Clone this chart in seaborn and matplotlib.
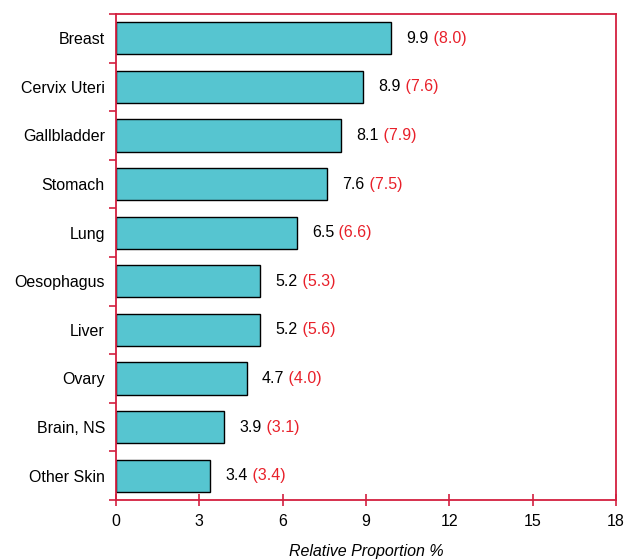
import matplotlib
matplotlib.use("Agg")
import matplotlib.pyplot as plt
import seaborn as sns
import pandas as pd

sites = ["Breast", "Cervix Uteri", "Gallbladder", "Stomach", "Lung",
         "Oesophagus", "Liver", "Ovary", "Brain, NS", "Other Skin"]
proportion = [9.9, 8.9, 8.1, 7.6, 6.5, 5.2, 5.2, 4.7, 3.9, 3.4]
bracket = [8.0, 7.6, 7.9, 7.5, 6.6, 5.3, 5.6, 4.0, 3.1, 3.4]
xticks = [0, 3, 6, 9, 12, 15, 18]

red = "#d3203f"
text_red = "#e8202a"
teal = "#56c5d0"
fs = 11.5

sns.set_style("white")
plt.rcParams["font.family"] = ["Liberation Sans", "DejaVu Sans"]
plt.rcParams["text.color"] = "black"
plt.rcParams["xtick.color"] = "black"
plt.rcParams["ytick.color"] = "black"

df = pd.DataFrame({"site": sites, "value": proportion})

fig = plt.figure(figsize=(6.25, 5.6), dpi=100)
ax = fig.add_axes([116 / 625, 1 - 500 / 560, 500 / 625, 486 / 560])

sns.barplot(data=df, x="value", y="site", orient="h", color=teal,
            saturation=1, width=0.66, edgecolor="black", linewidth=1, ax=ax)

ax.set_xlim(0, 18)
ax.set_ylim(len(sites) - 0.5, -0.5)
ax.set_xticks(xticks)
ax.set_xticklabels([str(t) for t in xticks], fontsize=fs)
ax.set_yticks(range(len(sites)))
ax.set_yticklabels(sites, fontsize=fs)
ax.tick_params(axis="y", which="major", left=True, length=0, pad=8)
ax.set_yticks([i - 0.5 for i in range(len(sites) + 1)], minor=True)
ax.tick_params(axis="y", which="minor", left=True, length=5, width=1.2,
               color=red, direction="out")
ax.tick_params(axis="x", bottom=True, length=8, width=1.2, color=red,
               direction="inout", pad=6, labelcolor="black")
ax.tick_params(axis="y", labelcolor="black")

for s in ax.spines.values():
    s.set_visible(True)
    s.set_color(red)
    s.set_linewidth(1.3)

for i, (v, b) in enumerate(zip(proportion, bracket)):
    t = ax.annotate(f"{v}", xy=(v, i), xytext=(11, 0), textcoords="offset points",
                    va="center", ha="left", fontsize=fs, color="black")
    ax.annotate(f" ({b})", xy=(1, 0), xycoords=t, va="bottom", ha="left",
                fontsize=fs, color=text_red)

ax.set_ylabel("")
ax.set_xlabel("Relative Proportion %", fontsize=fs, style="italic",
              labelpad=11, color="black")

fig.savefig("out.png", dpi=100)
